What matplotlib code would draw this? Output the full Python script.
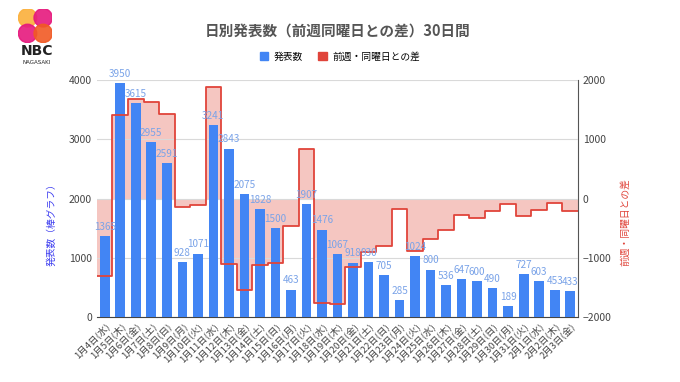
import matplotlib
matplotlib.use("Agg")
import matplotlib.pyplot as plt
from matplotlib.patches import Circle, Patch
import numpy as np

plt.rcParams['font.family'] = ['Noto Sans CJK JP', 'DejaVu Sans']

days = ['1月4日(水)', '1月5日(木)', '1月6日(金)', '1月7日(土)', '1月8日(日)', '1月9日(月)',
        '1月10日(火)', '1月11日(水)', '1月12日(木)', '1月13日(金)', '1月14日(土)', '1月15日(日)',
        '1月16日(月)', '1月17日(火)', '1月18日(水)', '1月19日(木)', '1月20日(金)', '1月21日(土)',
        '1月22日(日)', '1月23日(月)', '1月24日(火)', '1月25日(水)', '1月26日(木)', '1月27日(金)',
        '1月28日(土)', '1月29日(日)', '1月30日(月)', '1月31日(火)', '2月1日(水)', '2月2日(木)',
        '2月3日(金)']
counts = [1365, 3950, 3615, 2955, 2591, 928, 1071, 3241, 2843, 2075, 1828, 1500, 463, 1907,
          1476, 1067, 918, 930, 705, 285, 1024, 800, 536, 647, 600, 490, 189, 727, 603, 453, 433]
diffs = [-1300, 1410, 1677, 1622, 1427, -145, -117, 1876, -1107, -1540, -1127, -1091, -465, 836,
         -1765, -1776, -1157, -898, -795, -178, -883, -676, -531, -271, -330, -215, -96, -297,
         -197, -83, -214]

BLUE = '#4285f4'
RED = '#e0443a'
PINK = '#f5c6c1'

fig = plt.figure(figsize=(6.8, 3.82), dpi=100)
ax = fig.add_axes([0.1426, 0.170, 0.7074, 0.6206])
ax2 = ax.twinx()

# bars above the stepped area
ax.set_zorder(ax2.get_zorder() + 1)
ax.patch.set_visible(False)

x = np.arange(len(counts))
edges = np.append(x - 0.5, x[-1] + 0.5)
vals = np.append(diffs, diffs[-1])

ax2.fill_between(edges, 0, vals, step='post', color=PINK, linewidth=0)
ax.step(edges, vals, where='post', color=RED, linewidth=1.3, zorder=4,
        transform=ax2.transData)

ax.bar(x, counts, width=0.62, color=BLUE, zorder=3)
for xi, c in zip(x, counts):
    ax.annotate(str(c), (xi, c), xytext=(0, 3), textcoords='offset points',
                ha='center', va='bottom', fontsize=7.2, color='#7aa3e8', zorder=5)

ax.set_xlim(-0.5, len(counts) - 0.5)
ax.set_ylim(0, 4000)
ax.set_yticks([0, 1000, 2000, 3000, 4000])
ax2.set_ylim(-2000, 2000)
ax2.set_yticks([-2000, -1000, 0, 1000, 2000])

ax2.grid(False)
ax.yaxis.grid(True, color='#d9d9d9', linewidth=0.8)
ax.set_axisbelow(True)
for a in (ax, ax2):
    a.spines['top'].set_visible(False)
    a.spines['left'].set_visible(False)
    a.tick_params(length=0, labelsize=7.5, colors='#444444')
ax.spines['right'].set_visible(False)
ax.spines['bottom'].set_color('#444444')
ax2.spines['bottom'].set_visible(False)
ax2.spines['right'].set_color('#555555')

ax.set_xticks(x)
ax.set_xticklabels(days, rotation=45, ha='right', rotation_mode='anchor', fontsize=6.8)
ax.tick_params(axis='x', pad=3)

ax.set_ylabel('発表数（棒グラフ）', color='#3d3df0', fontsize=7)
ax.yaxis.set_label_coords(-0.083, 0.40)
ax2.set_ylabel('前週・同曜日との差', color=RED, fontsize=7, rotation=90)
ax2.yaxis.set_label_coords(1.087, 0.40)

fig.text(0.497, 0.92, '日別発表数（前週同曜日との差）30日間', ha='center', va='center',
         fontsize=10.5, color='#555555', fontweight='bold')

handles = [Patch(color=BLUE), Patch(color=RED)]
fig.legend(handles, ['発表数', '前週・同曜日との差'], loc='center', bbox_to_anchor=(0.5, 0.852),
           ncol=2, frameon=False, fontsize=7, handlelength=0.9, handleheight=0.9,
           columnspacing=1.5, handletextpad=0.6)

# NBC logo
logo = fig.add_axes([0.027, 0.888, 0.05, 0.09])
logo.set_xlim(0, 1)
logo.set_ylim(0, 1)
logo.set_aspect('equal')
logo.axis('off')
for (cx, cy, col) in [(0.27, 0.73, '#fbb03b'), (0.73, 0.73, '#e6197d'),
                      (0.27, 0.27, '#e6197d'), (0.73, 0.27, '#f15a24')]:
    logo.add_patch(Circle((cx, cy), 0.27, color=col, alpha=0.9))
fig.text(0.054, 0.866, 'NBC', ha='center', va='center', fontsize=10, fontweight='bold',
         color='#222222', family=['DejaVu Sans'])
fig.text(0.054, 0.836, 'NAGASAKI', ha='center', va='center', fontsize=4, color='#222222',
         family=['DejaVu Sans'])

fig.savefig('out.png', dpi=100)
